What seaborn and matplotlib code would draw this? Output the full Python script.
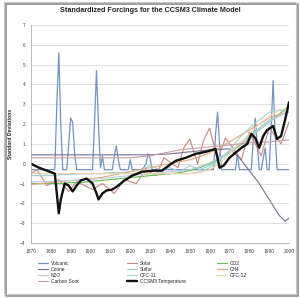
import numpy as np
import pandas as pd
import matplotlib
matplotlib.use("Agg")
import matplotlib.pyplot as plt
from matplotlib.patches import Rectangle
import seaborn as sns

# --- data (standard deviations) ---
volcanic_years = [1870, 1882, 1883, 1884, 1885, 1886, 1888, 1889, 1890, 1891, 1892, 1893,
                  1901, 1902, 1903, 1904, 1905, 1906, 1907, 1911, 1912, 1913, 1914, 1915,
                  1919, 1920, 1921, 1926, 1928, 1929, 1930, 1931, 1932, 1962, 1963, 1964,
                  1965, 1966, 1973, 1974, 1975, 1981, 1982, 1983, 1984, 1985, 1986, 1988,
                  1989, 1990, 1991, 1992, 1993, 1994, 1995, 2000]
volcanic_vals = [-0.3, -0.3, 3.0, 5.6, 2.0, -0.3, -0.3, 1.0, 2.3, 2.1, 0.5, -0.3,
                 -0.3, 2.0, 4.7, 2.0, -0.2, 0.4, -0.3, -0.3, 0.4, 0.9, 0.2, -0.3,
                 -0.3, 0.2, -0.3, -0.3, 0.0, 0.5, 0.3, -0.3, -0.3, -0.3, 1.5, 2.6,
                 1.0, -0.3, -0.3, 0.5, -0.3, -0.3, 1.2, 2.3, 1.0, -0.3, -0.3, 0.8,
                 -0.3, -0.3, 1.8, 4.2, 1.5, -0.3, -0.3, -0.3]

temp_years = [1870, 1874, 1878, 1882, 1884, 1885, 1887, 1889, 1891, 1893, 1895, 1898,
              1901, 1903, 1904, 1906, 1908, 1911, 1914, 1917, 1921, 1926, 1932, 1936,
              1940, 1943, 1948, 1953, 1958, 1963, 1965, 1967, 1970, 1973, 1976, 1979,
              1981, 1983, 1985, 1987, 1989, 1992, 1994, 1996, 1998, 2000]
temp_vals = [0.0, -0.2, -0.35, -0.5, -2.5, -1.8, -1.0, -1.1, -1.4, -1.1, -0.85, -0.75,
             -1.0, -1.5, -1.8, -1.5, -1.35, -1.3, -1.1, -0.85, -0.6, -0.4, -0.35, -0.35,
             -0.05, 0.15, 0.3, 0.5, 0.6, 0.75, -0.2, -0.1, 0.3, 0.55, 0.8, 1.0,
             1.5, 1.3, 0.8, 1.4, 1.7, 1.9, 1.25, 1.4, 2.2, 3.1]

solar_years = [1870, 1873, 1878, 1884, 1889, 1893, 1901, 1906, 1912, 1917, 1923, 1928,
               1933, 1937, 1944, 1947, 1950, 1954, 1957, 1960, 1964, 1968, 1976, 1980,
               1986, 1990, 1996, 2000]
solar_vals = [-0.5, -0.3, -1.1, -0.8, -1.4, -0.9, -1.3, -1.0, -1.5, -0.8, -1.0, -0.3,
              -0.6, 0.3, -0.2, 0.8, 1.25, 0.0, 1.2, 1.8, 0.2, 1.3, 0.2, 1.6,
              0.4, 1.8, 1.0, 2.1]

ozone_years = [1870, 1930, 1940, 1950, 1960, 1970, 1975, 1980, 1985, 1990, 1995, 1998, 2000]
ozone_vals = [0.45, 0.45, 0.5, 0.6, 0.7, 0.75, 0.3, -0.35, -1.0, -1.8, -2.6, -2.9, -2.75]

years5 = list(range(1870, 2001, 5))
co2_vals = [-1.0, -1.0, -1.0, -1.0, -0.95, -0.95, -0.9, -0.85, -0.8, -0.75, -0.7, -0.65,
            -0.6, -0.55, -0.5, -0.45, -0.35, -0.2, 0.0, 0.25, 0.55, 0.9, 1.3, 1.7,
            2.1, 2.5, 2.9]
ch4_vals = [-1.05, -1.0, -0.95, -0.9, -0.85, -0.8, -0.75, -0.7, -0.6, -0.5, -0.4, -0.3,
            -0.2, -0.1, 0.0, 0.1, 0.2, 0.35, 0.55, 0.8, 1.1, 1.4, 1.7, 2.0,
            2.3, 2.5, 2.6]
n2o_vals = [-0.9, -0.9, -0.9, -0.85, -0.85, -0.8, -0.8, -0.75, -0.7, -0.65, -0.6, -0.55,
            -0.5, -0.45, -0.4, -0.35, -0.3, -0.15, 0.05, 0.3, 0.6, 0.95, 1.3, 1.7,
            2.1, 2.4, 2.7]
sulfur_vals = [-0.6, -0.6, -0.6, -0.55, -0.55, -0.5, -0.5, -0.5, -0.45, -0.45, -0.4, -0.3,
               -0.1, -0.3, -0.2, -0.4, -0.1, -0.3, -0.1, 0.2, 0.6, 1.0, 1.4, 1.8,
               2.2, 2.4, 2.6]
cfc11_vals = [-0.5] * 17 + [-0.4, -0.2, 0.2, 0.7, 1.3, 1.8, 2.2, 2.6, 2.7, 2.6]
cfc12_vals = [-0.5] * 17 + [-0.45, -0.3, 0.0, 0.5, 1.0, 1.5, 2.0, 2.4, 2.7, 2.8]
soot_vals = [0.3, 0.3, 0.3, 0.3, 0.3, 0.3, 0.3, 0.3, 0.3, 0.3, 0.3, 0.35,
             0.4, 0.5, 0.6, 0.7, 0.75, 0.8, 0.85, 0.9, 0.95, 1.0, 1.05, 1.1,
             1.1, 1.15, 1.2]

series = [
    ("Volcanic", volcanic_years, volcanic_vals, "#7393C2", 0.9),
    ("Solar", solar_years, solar_vals, "#C8877F", 0.8),
    ("CO2", years5, co2_vals, "#5CBF4A", 0.8),
    ("Ozone", ozone_years, ozone_vals, "#7A6F96", 0.8),
    ("Sulfur", years5, sulfur_vals, "#9ACFD9", 0.8),
    ("CH4", years5, ch4_vals, "#E9A77A", 0.8),
    ("N2O", years5, n2o_vals, "#B9CBE3", 0.8),
    ("CFC-11", years5, cfc11_vals, "#A6D7D2", 0.8),
    ("CFC-12", years5, cfc12_vals, "#F6D2A8", 0.8),
    ("Carbon Soot", years5, soot_vals, "#C9A0A8", 0.8),
    ("CCSM3 Temperature", temp_years, temp_vals, "#111111", 1.7),
]

sns.set_style("white")
plt.rcParams['font.family'] = ['Liberation Sans', 'DejaVu Sans']

fig = plt.figure(figsize=(3.0, 2.98), dpi=100, facecolor='white')
ax = fig.add_axes([31 / 300, 55 / 298, 258 / 300, 218 / 298])
ax.set_facecolor('none')

handles = {}
for name, xs, ys, col, lw in series:
    df = pd.DataFrame({"year": xs, "value": ys})
    sns.lineplot(data=df, x="year", y="value", color=col, linewidth=lw, ax=ax, label=name)

for ln in ax.get_lines():
    handles[ln.get_label()] = ln
if ax.get_legend():
    ax.get_legend().remove()

ax.set_xlim(1870, 2000)
ax.set_ylim(-4, 7)
ax.set_xticks(range(1870, 2001, 10))
ax.set_yticks(range(-4, 8))
ax.tick_params(axis='both', labelsize=3.5, length=1.5, width=0.4, pad=2.5, colors='#444444')
ax.yaxis.grid(True, color='#D9D9D9', linewidth=0.6)
ax.set_axisbelow(True)
for sp in ['top', 'right']:
    ax.spines[sp].set_visible(False)
ax.spines['left'].set_color('#A0A0A0')
ax.spines['bottom'].set_color('#A0A0A0')
ax.spines['left'].set_linewidth(0.5)
ax.spines['bottom'].set_linewidth(0.5)
ax.set_xlabel("")
ax.set_ylabel("Standard Deviations", fontsize=3.7, fontweight='bold', labelpad=5)

fig.text(0.5, 1 - 11 / 298, "Standardized Forcings for the CCSM3 Climate Model",
         ha='center', va='center', fontsize=5.2, fontweight='bold', color='#222222')

cols = [["Volcanic", "Ozone", "N2O", "Carbon Soot"],
        ["Solar", "Sulfur", "CFC-11", "CCSM3 Temperature"],
        ["CO2", "CH4", "CFC-12"]]
col_x = [38, 127, 217]
for names, cx in zip(cols, col_x):
    fig.legend([handles[n] for n in names], names, loc='upper left',
               bbox_to_anchor=(cx / 300, 1 - 261 / 298), frameon=False,
               fontsize=3.5, handlelength=2.0, handletextpad=0.6,
               labelspacing=0.2, borderpad=0, borderaxespad=0)

# chart area frame with shadow
fig.patches.append(Rectangle((6 / 300, 2 / 298), 292 / 300, 292 / 298, transform=fig.transFigure,
                             facecolor='none', edgecolor='#8C8C8C', linewidth=1.2, zorder=-2))
fig.patches.append(Rectangle((4 / 300, 4 / 298), 292 / 300, 292 / 298, transform=fig.transFigure,
                             facecolor='none', edgecolor='#C8C8C8', linewidth=0.8, zorder=-1))

fig.savefig("out.png", dpi=100)
